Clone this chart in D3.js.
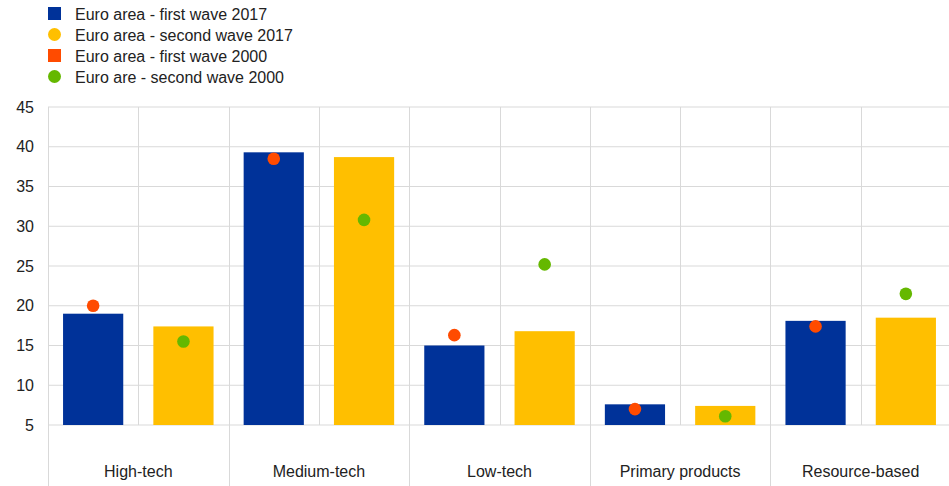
<!DOCTYPE html>
<html>
<head>
<meta charset="utf-8">
<script src="https://cdn.jsdelivr.net/npm/d3@7"></script>
<style>
  html, body { margin: 0; padding: 0; background: #fff; }
  svg { display: block; font-family: Arial, "Liberation Sans", sans-serif; }
  .grid line { stroke: #d9d9d9; stroke-width: 1; }
  .tick text { fill: #222; font-size: 16px; }
</style>
</head>
<body>
<svg id="chart" width="949" height="486"></svg>
<script>
// categories + series
const categories = ['High-tech', 'Medium-tech', 'Low-tech', 'Primary products', 'Resource-based'];
const firstWave2017  = [19.0, 39.3, 15.0, 7.6, 18.1];
const secondWave2017 = [17.4, 38.7, 16.8, 7.4, 18.5];
const firstWave2000  = [20.0, 38.5, 16.3, 7.0, 17.4];
const secondWave2000 = [15.5, 30.8, 25.2, 6.1, 21.5];
const yTicks = [5, 10, 15, 20, 25, 30, 35, 40, 45];

const legendItems = [
  { label: 'Euro area - first wave 2017',  color: '#003299', shape: 'square' },
  { label: 'Euro area - second wave 2017', color: '#FFBF00', shape: 'circle' },
  { label: 'Euro area - first wave 2000',  color: '#FF4B00', shape: 'square' },
  { label: 'Euro are - second wave 2000',  color: '#65B800', shape: 'circle' },
];

const W = 949, H = 486;
const M = { t: 107, r: -2, b: 61, l: 48 };
const iw = W - M.l - M.r, ih = H - M.t - M.b;

const svg = d3.select('#chart');
const g = svg.append('g').attr('transform', `translate(${M.l},${M.t})`);

const x0 = d3.scaleBand().domain(categories).range([0, iw]);
const x1 = d3.scaleBand().domain(['w1', 'w2']).range([0, x0.bandwidth()]);
const y = d3.scaleLinear().domain([5, 45]).range([ih, 0]);

// horizontal grid
g.append('g').attr('class', 'grid')
  .selectAll('line').data(yTicks).join('line')
    .attr('x1', 0).attr('x2', iw)
    .attr('y1', d => y(d)).attr('y2', d => y(d))
    .attr('stroke', d => d === 5 ? '#cfcfcf' : null)
    .attr('stroke-width', d => d === 5 ? 2 : 1);

// vertical grid: group separators run down through the label area
g.append('g').attr('class', 'grid')
  .selectAll('line').data(categories).join('line')
    .attr('x1', d => Math.round(x0(d)) + 0.5).attr('x2', d => Math.round(x0(d)) + 0.5)
    .attr('y1', 0).attr('y2', H - M.t);
g.append('g').attr('class', 'grid')
  .selectAll('line').data(categories).join('line')
    .attr('x1', d => Math.round(x0(d) + x1.bandwidth()) + 0.5)
    .attr('x2', d => Math.round(x0(d) + x1.bandwidth()) + 0.5)
    .attr('y1', 0).attr('y2', ih);

// y axis labels
const yAxis = d3.axisLeft(y).tickValues(yTicks).tickSize(0).tickPadding(14);
g.append('g').call(yAxis).call(a => a.select('.domain').remove());

// category labels
const xAxis = d3.axisBottom(x0).tickSize(0).tickPadding(41);
g.append('g').attr('transform', `translate(0,${ih})`).call(xAxis)
  .call(a => a.select('.domain').remove());

// bars
const barW = x1.bandwidth() * 2 / 3;
const bars = g.append('g');
bars.selectAll('rect.w1').data(categories).join('rect')
  .attr('x', (d, i) => x0(d) + x1('w1') + (x1.bandwidth() - barW) / 2)
  .attr('y', (d, i) => y(firstWave2017[i]))
  .attr('width', barW)
  .attr('height', (d, i) => y(5) - y(firstWave2017[i]))
  .attr('fill', legendItems[0].color);
bars.selectAll('rect.w2').data(categories).join('rect')
  .attr('x', (d, i) => x0(d) + x1('w2') + (x1.bandwidth() - barW) / 2)
  .attr('y', (d, i) => y(secondWave2017[i]))
  .attr('width', barW)
  .attr('height', (d, i) => y(5) - y(secondWave2017[i]))
  .attr('fill', legendItems[1].color);

// dots for 2000
const dots = g.append('g');
dots.selectAll('circle.d1').data(categories).join('circle')
  .attr('cx', d => x0(d) + x1('w1') + x1.bandwidth() / 2)
  .attr('cy', (d, i) => y(firstWave2000[i]))
  .attr('r', 6.3)
  .attr('fill', legendItems[2].color);
dots.selectAll('circle.d2').data(categories).join('circle')
  .attr('cx', d => x0(d) + x1('w2') + x1.bandwidth() / 2)
  .attr('cy', (d, i) => y(secondWave2000[i]))
  .attr('r', 6.3)
  .attr('fill', legendItems[3].color);

// legend
const lg = svg.append('g').attr('transform', 'translate(48,14)');
const row = lg.selectAll('g').data(legendItems).join('g')
  .attr('transform', (d, i) => `translate(0,${i * 21})`);
row.filter(d => d.shape === 'square').append('rect')
  .attr('x', 0).attr('y', -7).attr('width', 13).attr('height', 13)
  .attr('fill', d => d.color);
row.filter(d => d.shape === 'circle').append('circle')
  .attr('cx', 6.5).attr('cy', -0.5).attr('r', 6.5)
  .attr('fill', d => d.color);
row.append('text')
  .attr('x', 27).attr('y', 0).attr('dy', '0.35em')
  .attr('font-size', 16).attr('fill', '#222')
  .text(d => d.label);
</script>
</body>
</html>
